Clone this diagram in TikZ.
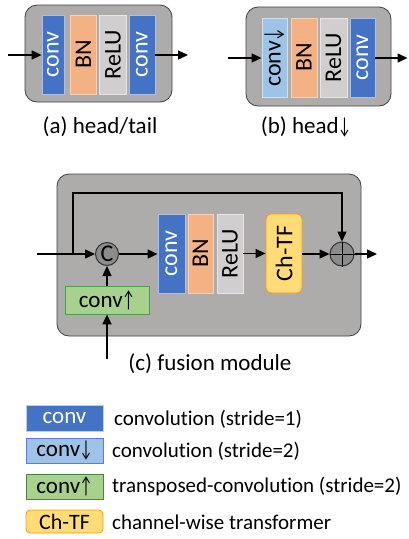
\documentclass[tikz,border=0pt]{standalone}
\usepackage{fontspec}
\usepackage{graphicx}
\setmainfont{Carlito}[Ligatures={NoCommon}]
\usetikzlibrary{arrows.meta}
\newcommand\dnarrow{\kern-0.5pt\scalebox{0.62}[1]{↓}}
\newcommand\uparrowch{\kern-0.5pt\scalebox{0.62}[1]{↑}}
\definecolor{panelc}{HTML}{AEABAB}
\definecolor{convc}{HTML}{4472C4}
\definecolor{bnc}{HTML}{F4B183}
\definecolor{reluc}{HTML}{D0CECE}
\definecolor{downc}{HTML}{9DC3E6}
\definecolor{upc}{HTML}{A9D18E}
\definecolor{tfc}{HTML}{FFDC78}
\tikzset{
  panel/.style={draw=black!75, fill=panelc, rounded corners=12pt, line width=0.8pt},
  blk/.style={rotate=90, inner sep=0pt, minimum width=79pt, font=\fontsize{24}{24}\selectfont, line width=0.8pt},
  convb/.style={blk, fill=convc, draw=convc!45!white, text=white},
  bnb/.style={blk, fill=bnc, draw=bnc!60!white},
  relub/.style={blk, fill=reluc, draw=reluc!50!white},
  downb/.style={blk, fill=downc, draw=downc!50!white},
  tfb/.style={blk, fill=tfc, draw=orange!80!yellow, rounded corners=5pt},
  upb/.style={fill=upc, draw=green!45!black!70, inner sep=0pt, line width=0.8pt, font=\fontsize{23}{23}\selectfont},
  arr/.style={-{Triangle[length=10pt,width=9pt]}, line width=1.4pt},
  ln/.style={line width=1.4pt},
  captxt/.style={font=\fontsize{23}{23}\selectfont},
  leg/.style={inner sep=0pt, minimum width=77pt, font=\fontsize{23}{23}\selectfont, line width=0.8pt},
  legtxt/.style={anchor=west, inner sep=0pt, font=\fontsize{21}{21}\selectfont},
  opc/.style={circle, draw=black!80, fill=black!45, line width=1pt, inner sep=0pt}
}
\begin{document}
\begin{tikzpicture}[x=1pt,y=-1pt]
\useasboundingbox (0,0) rectangle (408,539);

% ---------- panel (a)
\node[panel, minimum width=147pt, minimum height=97pt] (pa) at (98.5,53.5) {};
\node[convb, minimum height=22pt] (a1) at (53,54.5) {conv};
\node[bnb, minimum height=26pt] (a2) at (83.5,54.5) {BN};
\node[relub, minimum height=27pt] (a3) at (113,54.5) {ReLU};
\node[convb, minimum height=26pt] (a4) at (142,54.5) {conv};
\coordinate (ain) at (8,55);
\coordinate (aout) at (188,55);
\draw[arr] (ain) -- (ain -| a1.north);
\draw[arr] (a4.south |- aout) -- (aout);
\node[captxt] (capa) at (100,127) {(a) head/tail};

% ---------- panel (b)
\node[panel, minimum width=145pt, minimum height=99pt] (pb) at (318.5,56.5) {};
\node[downb, minimum height=25pt] (b1) at (274.5,57.5) {conv\dnarrow};
\node[bnb, minimum height=26pt] (b2) at (304,57.5) {BN};
\node[relub, minimum height=27pt] (b3) at (333.5,57.5) {ReLU};
\node[convb, minimum height=25pt] (b4) at (362.5,57.5) {conv};
\coordinate (bin) at (228,58);
\coordinate (bout) at (407.5,58);
\draw[arr] (bin) -- (bin -| b1.north);
\draw[arr] (b4.south |- bout) -- (bout);
\node[captxt] (capb) at (306,127) {(b) head\dnarrow};

% ---------- panel (c)
\node[panel, minimum width=304pt, minimum height=162pt] (pc) at (209,255) {};
\node[opc, minimum size=23pt, font=\fontsize{24}{24}\selectfont] (cat) at (107,254) {C};
\node[convb, minimum height=27pt] (c1) at (171.5,253.5) {conv};
\node[bnb, minimum height=25pt] (c2) at (200.5,253.5) {BN};
\node[relub, minimum height=26pt] (c3) at (230,253.5) {ReLU};
\node[tfb, minimum height=36pt] (tf) at (284,253.5) {Ch-TF};
\node[opc, minimum size=24pt] (add) at (342,254) {};
\draw[line width=1pt] (add.north) -- (add.south) (add.west) -- (add.east);
\node[upb, minimum width=84pt, minimum height=28pt] (up) at (107,300) {conv\uparrowch};
\coordinate (cin) at (37,254);
\coordinate (br) at (73,254);
\coordinate (cout) at (377,254);
\coordinate (cbot) at (107,359);
\draw[ln] (cin) -- (br);
\draw[arr] (br) -- (cat);
\draw[arr] (br) |- (73,193) -| (add.north);
\draw[arr] (cat) -- (cat -| c1.north);
\draw[arr] (c3.south |- tf) -- (tf.north |- tf);
\draw[arr] (tf.south |- add) -- (add);
\draw[arr] (add) -- (cout);
\draw[arr] (up) -- (cat);
\draw[arr] (cbot) -- (up);
\node[captxt] (capc) at (210,364) {(c) fusion module};

% ---------- legend
\node[leg, fill=convc, draw=convc!35!white, text=white, minimum height=26pt] (l1) at (64.5,418) {conv};
\node[legtxt] (t1) at (114,419) {convolution (stride=1)};
\node[leg, fill=downc, draw=downc!60!blue, minimum height=25pt] (l2) at (64.5,450.5) {conv\dnarrow};
\node[legtxt] (t2) at (112,451) {convolution (stride=2)};
\node[leg, fill=upc, draw=upc!70!green!60!black, minimum height=25pt] (l3) at (64.5,486.5) {conv\uparrowch};
\node[legtxt] (t3) at (112,487) {transposed-convolution (stride=2)};
\node[leg, fill=tfc, draw=orange!80!yellow, rounded corners=4pt, minimum height=23pt, font=\fontsize{22}{22}\selectfont] (l4) at (64.5,521.5) {Ch-TF};
\node[legtxt] (t4) at (112,522) {channel-wise transformer};
\end{tikzpicture}
\end{document}
